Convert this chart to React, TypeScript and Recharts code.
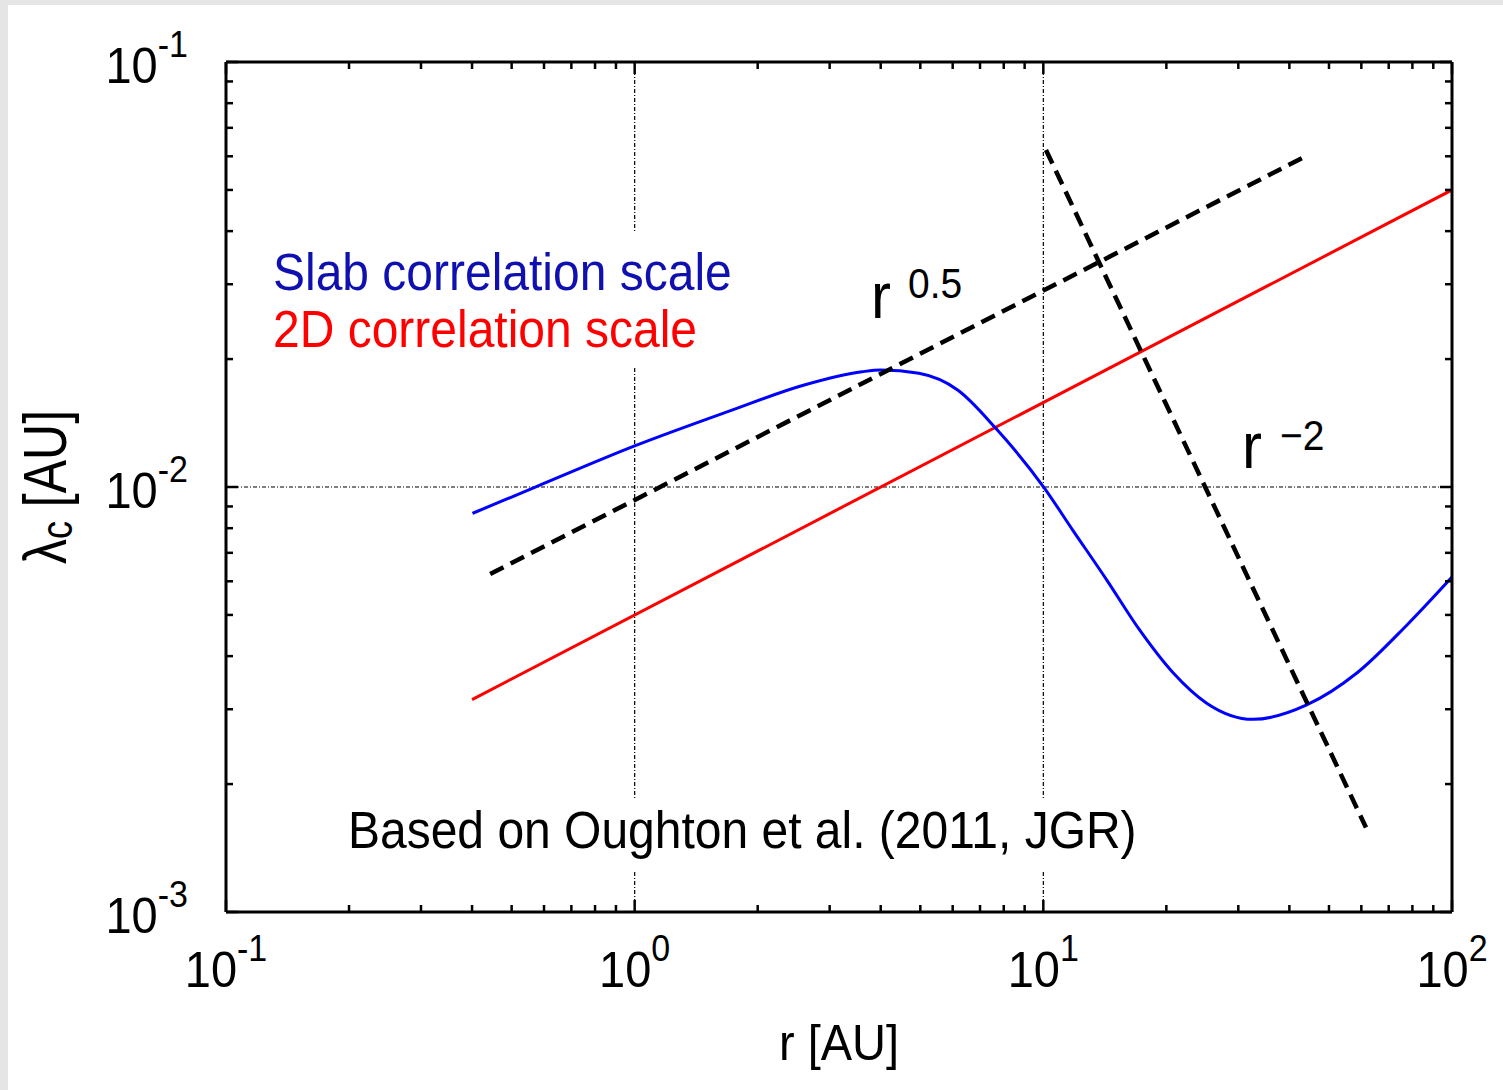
import React from "react";
import { LineChart, Line, XAxis, YAxis, ReferenceLine } from "recharts";

// axis ticks (log decades + minor ticks)
const X_MAJOR = [0.1, 1, 10, 100];
const X_MINOR = [0.2, 0.3, 0.4, 0.5, 0.6, 0.7, 0.8, 0.9, 2, 3, 4, 5, 6, 7, 8, 9, 20, 30, 40, 50, 60, 70, 80, 90];
const Y_MAJOR = [0.001, 0.01, 0.1];
const Y_MINOR = [0.002, 0.003, 0.004, 0.005, 0.006, 0.007, 0.008, 0.009, 0.02, 0.03, 0.04, 0.05, 0.06, 0.07, 0.08, 0.09];

// slab correlation scale (blue)
const SLAB_R = [0.401, 0.575, 1, 1.69, 2.6, 3.6, 4.0, 4.96, 6.17, 7.65, 10.04, 11.8, 14.3, 17.2, 20.8, 25.1, 32.6, 44.1, 58.5, 77.5, 100];
const SLAB_LC = [0.00867, 0.01002, 0.01249, 0.01504, 0.01738, 0.01867, 0.01885, 0.01851, 0.01691, 0.01374, 0.00997, 0.00792, 0.00604, 0.00461, 0.00365, 0.0031, 0.00284, 0.00307, 0.00365, 0.00473, 0.00614];

// 2D correlation scale (red)
const TWOD_R = [0.4, 100];
const TWOD_LC = [0.00316, 0.05];

// guide lines r^0.5 and r^-2
const HALF_R = [0.443, 44.4];
const HALF_LC = [0.00624, 0.0604];
const MINUS2_R = [10.15, 61.6];
const MINUS2_LC = [0.0621, 0.00158];

const zip = (xs: number[], ys: number[]) => xs.map((x, i) => ({ x, y: ys[i] }));

const FONT = "'Liberation Sans', Arial, Helvetica, sans-serif";
const MAJOR_LEN = 12;
const MINOR_LEN = 7;
const STRETCH = 1.08; // original lettering is a bit taller than wide

const expOf = (v: number) => Math.round(Math.log10(v));

// text drawn with a slight vertical stretch, anchored on its baseline
const SText = ({ x, y, children, ...rest }: any) => (
  <text transform={`translate(${x},${y}) scale(1,${STRETCH})`} x={0} y={0} fontFamily={FONT} {...rest}>
    {children}
  </text>
);

const Pow10 = ({ v }: { v: number }) => (
  <>
    10
    <tspan dy={-24} fontSize={34}>{String(expOf(v))}</tspan>
  </>
);

const BottomTick = (props: any) => {
  const { x, y, payload } = props;
  const major = X_MAJOR.includes(payload.value);
  return (
    <g>
      <line x1={x} y1={y} x2={x} y2={y - (major ? MAJOR_LEN : MINOR_LEN)} stroke="#000" strokeWidth={2.5} />
      {major && (
        <SText x={x} y={y + 75} textAnchor="middle" fontSize={47} fill="#000">
          <Pow10 v={payload.value} />
        </SText>
      )}
    </g>
  );
};

const TopTick = (props: any) => {
  const { x, y, payload } = props;
  const major = X_MAJOR.includes(payload.value);
  return <line x1={x} y1={y} x2={x} y2={y + (major ? MAJOR_LEN : MINOR_LEN)} stroke="#000" strokeWidth={2.5} />;
};

const LeftTick = (props: any) => {
  const { x, y, payload } = props;
  const major = Y_MAJOR.includes(payload.value);
  return (
    <g>
      <line x1={x} y1={y} x2={x + (major ? MAJOR_LEN : MINOR_LEN)} y2={y} stroke="#000" strokeWidth={2.5} />
      {major && (
        <SText x={x - 38} y={y + 21} textAnchor="end" fontSize={47} fill="#000">
          <Pow10 v={payload.value} />
        </SText>
      )}
    </g>
  );
};

const RightTick = (props: any) => {
  const { x, y, payload } = props;
  const major = Y_MAJOR.includes(payload.value);
  return <line x1={x} y1={y} x2={x - (major ? MAJOR_LEN : MINOR_LEN)} y2={y} stroke="#000" strokeWidth={2.5} />;
};

const frame = { stroke: "#000", strokeWidth: 3 };
const grid = { stroke: "#000", strokeWidth: 1.2, strokeDasharray: "4 2 1 2" };

export default function App() {
  const xTicks = [...X_MAJOR, ...X_MINOR];
  const yTicks = [...Y_MAJOR, ...Y_MINOR];

  return (
    <div style={{ position: "relative", width: 1503, height: 1090, background: "#fff", overflow: "hidden" }}>
      <style>{"body{margin:0}"}</style>
      <div style={{ position: "absolute", left: 0, top: 0, width: 1503, height: 5, background: "#e5e5e5" }} />
      <div style={{ position: "absolute", left: 0, top: 0, width: 8, height: 1090, background: "#e5e5e5" }} />

      <div style={{ position: "absolute", left: 0, top: 0 }}>
        <LineChart width={1503} height={1090} margin={{ top: 61, right: 50, bottom: 177, left: 225 }}>
          <XAxis
            type="number"
            dataKey="x"
            scale="log"
            domain={[0.1, 100]}
            allowDataOverflow
            ticks={xTicks}
            interval={0}
            height={1}
            tickSize={0}
            tickMargin={0}
            tick={BottomTick}
            axisLine={frame}
            tickLine={false}
          />
          <XAxis
            xAxisId="top"
            orientation="top"
            type="number"
            dataKey="x"
            scale="log"
            domain={[0.1, 100]}
            allowDataOverflow
            ticks={xTicks}
            interval={0}
            height={1}
            tickSize={0}
            tickMargin={0}
            tick={TopTick}
            axisLine={frame}
            tickLine={false}
          />
          <YAxis
            type="number"
            dataKey="y"
            scale="log"
            domain={[0.001, 0.1]}
            allowDataOverflow
            ticks={yTicks}
            interval={0}
            width={1}
            tickSize={0}
            tickMargin={0}
            tick={LeftTick}
            axisLine={frame}
            tickLine={false}
          />
          <YAxis
            yAxisId="right"
            orientation="right"
            type="number"
            dataKey="y"
            scale="log"
            domain={[0.001, 0.1]}
            allowDataOverflow
            ticks={yTicks}
            interval={0}
            width={1}
            tickSize={0}
            tickMargin={0}
            tick={RightTick}
            axisLine={frame}
            tickLine={false}
          />

          <ReferenceLine x={1} {...grid} />
          <ReferenceLine x={10} {...grid} />
          <ReferenceLine y={0.01} {...grid} />

          <Line data={zip(TWOD_R, TWOD_LC)} dataKey="y" type="linear" stroke="#ff0000" strokeWidth={3} dot={false} isAnimationActive={false} />
          <Line data={zip(SLAB_R, SLAB_LC)} dataKey="y" type="monotone" stroke="#0000ff" strokeWidth={3} dot={false} isAnimationActive={false} />
          <Line data={zip(HALF_R, HALF_LC)} dataKey="y" type="linear" stroke="#000" strokeWidth={4.5} strokeDasharray="15 8" dot={false} isAnimationActive={false} />
          <Line data={zip(MINUS2_R, MINUS2_LC)} dataKey="y" type="linear" stroke="#000" strokeWidth={4.5} strokeDasharray="15 8" dot={false} isAnimationActive={false} />
        </LineChart>
      </div>

      {/* annotations and axis titles */}
      <svg width={1503} height={1090} style={{ position: "absolute", left: 0, top: 0, pointerEvents: "none" }} fontFamily={FONT}>
        <rect x={265} y={232} width={478} height={136} fill="#fff" />
        <SText x={273} y={290} fontSize={48} fill="#1010b0">Slab correlation scale</SText>
        <SText x={273} y={347} fontSize={48} fill="#ff0000">2D correlation scale</SText>

        <rect x={340} y={800} width={805} height={70} fill="#fff" />
        <SText x={348} y={848} fontSize={48} fill="#000">Based on Oughton et al. (2011, JGR)</SText>

        <SText x={871} y={318} fontSize={60} fill="#000">r</SText>
        <SText x={908} y={298} fontSize={39} fill="#000">0.5</SText>
        <SText x={1242} y={468} fontSize={60} fill="#000">r</SText>
        <SText x={1280} y={450} fontSize={39} fill="#000">−2</SText>

        <SText x={839} y={1060} fontSize={47} textAnchor="middle" fill="#000">r [AU]</SText>
        <text transform="translate(66,487) rotate(-90) scale(1,1.22)" fontSize={50} textAnchor="middle" fill="#000">
          λ<tspan fontSize={36} dy={5}>c</tspan>
          <tspan dy={-5}> [AU]</tspan>
        </text>
      </svg>
    </div>
  );
}
